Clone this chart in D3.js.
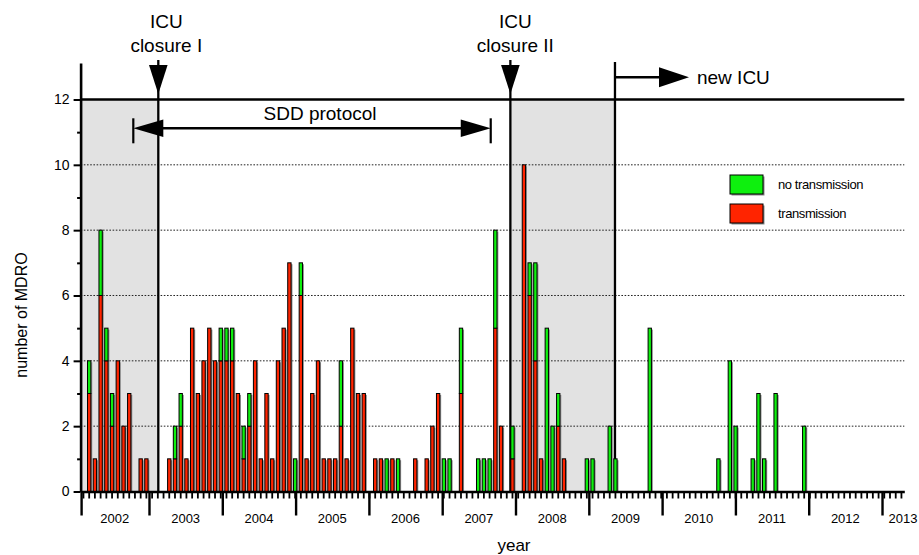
<!DOCTYPE html>
<html>
<head>
<meta charset="utf-8">
<script src="https://cdn.jsdelivr.net/npm/d3@7/dist/d3.min.js"></script>
<style>
  body { margin: 0; background: #fff; }
  text { font-family: "Liberation Sans", Arial, Helvetica, sans-serif; fill: #000; }
</style>
</head>
<body>
<script>

// --------------------------------------------------
// Data: MDRO per 4-week period, period 0 = first period (Mar 2002)
// --------------------------------------------------

const transmission = [
    3, 1, 6, 4, 2, 4, 2, 3, 0, 1, 1, 0, 0, 0,
    1, 1, 2, 1, 5, 3, 4, 5, 4, 4, 4, 4, 3, 1,
    2, 4, 1, 3, 1, 4, 5, 7, 0, 6, 1, 3, 4, 1,
    1, 1, 2, 1, 5, 3, 3, 0, 1, 1, 0, 1, 0, 0,
    0, 1, 0, 1, 2, 3, 0, 0, 0, 3, 0, 0, 0, 0,
    0, 5, 2, 0, 1, 0, 10, 6, 4, 1, 0, 0, 2, 1,
    0, 0, 0, 0, 0, 0, 0, 0, 0, 0, 0, 0, 0, 0,
    0, 0, 0, 0, 0, 0, 0, 0, 0, 0, 0, 0, 0, 0,
    0, 0, 0, 0, 0, 0, 0, 0, 0, 0, 0, 0, 0, 0
];

const noTransmission = [
    1, 0, 2, 1, 1, 0, 0, 0, 0, 0, 0, 0, 0, 0,
    0, 1, 1, 0, 0, 0, 0, 0, 0, 1, 1, 1, 0, 1,
    1, 0, 0, 0, 0, 0, 0, 0, 1, 1, 0, 0, 0, 0,
    0, 0, 2, 0, 0, 0, 0, 0, 0, 0, 1, 0, 1, 0,
    0, 0, 0, 0, 0, 0, 1, 1, 0, 2, 0, 0, 1, 1,
    1, 3, 0, 0, 1, 0, 0, 1, 3, 0, 5, 2, 1, 0,
    0, 0, 0, 1, 1, 0, 0, 2, 1, 0, 0, 0, 0, 0,
    5, 0, 0, 0, 0, 0, 0, 0, 0, 0, 0, 0, 1, 0,
    4, 2, 0, 0, 1, 3, 1, 0, 3, 0, 0, 0, 0, 2
];

const years = [2002, 2003, 2004, 2005, 2006, 2007, 2008, 2009, 2010, 2011, 2012, 2013];
const yTicks = [0, 2, 4, 6, 8, 10, 12];
const yMinorTicks = [1, 3, 5, 7, 9, 11];
const gridValues = [2, 4, 6, 8, 10];

// events as decimal years
const closureI = 2003.127;
const closureII = 2007.930;
const newICU = 2009.357;
const sddStart = 2002.786;
const sddEnd = 2007.662;

const colors = { transmission: '#ff2400', noTransmission: '#0ef00e' };


// --------------------------------------------------
// Init
// --------------------------------------------------

var svg = d3.select('body').append('svg')
    .attr('width', 919)
    .attr('height', 555);

var left = 80.6, right = 904.3, base = 491.5;

var y = d3.scaleLinear()
    .domain([0, 13.12])
    .range([base, 62.9]);

// 144 period slots along the axis, one before the first bar
var x = d3.scaleBand()
    .domain(d3.range(-1, 143))
    .range([left, right])
    .paddingInner(0.42)
    .paddingOuter(0.21);

var xYear = d3.scaleLinear()
    .domain([2002.067, 2013.304])
    .range([left, right]);

var g = svg.append('g');

// shaded periods
g.append('rect')
    .attr('x', left).attr('y', y(12))
    .attr('width', xYear(closureI) - left).attr('height', base - y(12))
    .attr('fill', '#e2e2e2');
g.append('rect')
    .attr('x', xYear(closureII)).attr('y', y(12))
    .attr('width', xYear(newICU) - xYear(closureII)).attr('height', base - y(12))
    .attr('fill', '#e2e2e2');

// dotted grid
g.selectAll('.grid')
    .data(gridValues)
    .enter().append('line')
    .attr('class', 'grid')
    .attr('x1', left).attr('x2', right)
    .attr('y1', d => y(d)).attr('y2', d => y(d))
    .attr('stroke', '#222')
    .attr('stroke-width', 1)
    .attr('stroke-dasharray', '1.6,1.6');

// top line at 12
g.append('line')
    .attr('x1', left).attr('x2', right)
    .attr('y1', y(12)).attr('y2', y(12))
    .attr('stroke', '#000').attr('stroke-width', 2.3);

// event lines
g.append('line')
    .attr('x1', xYear(closureI)).attr('x2', xYear(closureI))
    .attr('y1', 60).attr('y2', base)
    .attr('stroke', '#000').attr('stroke-width', 2.3);
g.append('line')
    .attr('x1', xYear(closureII)).attr('x2', xYear(closureII))
    .attr('y1', 60).attr('y2', base)
    .attr('stroke', '#000').attr('stroke-width', 2.3);
g.append('line')
    .attr('x1', xYear(newICU)).attr('x2', xYear(newICU))
    .attr('y1', 62).attr('y2', base)
    .attr('stroke', '#000').attr('stroke-width', 2.3);


// --------------------------------------------------
// Bars
// --------------------------------------------------

var rows = transmission.map((t, i) => ({
    period: i,
    transmission: t,
    noTransmission: noTransmission[i]
}));

var series = d3.stack()
    .keys(['transmission', 'noTransmission'])(rows);

var bw = x.bandwidth();

// drop shadow
g.selectAll('.shadow')
    .data(rows.filter(d => d.transmission + d.noTransmission > 0))
    .enter().append('rect')
    .attr('class', 'shadow')
    .attr('x', d => x(d.period) + 1.4)
    .attr('y', d => y(d.transmission + d.noTransmission) + 1.4)
    .attr('width', bw)
    .attr('height', d => base - y(d.transmission + d.noTransmission) - 1.4)
    .attr('fill', '#8a8a8a');

g.selectAll('.layer')
    .data(series)
    .enter().append('g')
    .attr('class', 'layer')
    .attr('fill', d => colors[d.key])
    .selectAll('rect')
    .data(d => d.filter(s => s[1] > s[0]))
    .enter().append('rect')
    .attr('x', d => x(d.data.period))
    .attr('y', d => y(d[1]))
    .attr('width', bw)
    .attr('height', d => y(d[0]) - y(d[1]))
    .attr('stroke', '#000')
    .attr('stroke-width', 1);


// --------------------------------------------------
// Axes
// --------------------------------------------------

var yAxis = svg.append('g')
    .attr('transform', 'translate(' + left + ',0)')
    .call(d3.axisLeft(y).tickValues(yTicks).tickSize(7).tickSizeOuter(0).tickPadding(4));
yAxis.select('.domain').attr('stroke-width', 2.6);
yAxis.selectAll('.tick line').attr('stroke-width', 2);
yAxis.selectAll('.tick text').style('font-size', '14px');

var yMinor = svg.append('g')
    .attr('transform', 'translate(' + left + ',0)')
    .call(d3.axisLeft(y).tickValues(yMinorTicks).tickSize(3.5).tickFormat(''));
yMinor.select('.domain').remove();
yMinor.selectAll('.tick line').attr('stroke-width', 2);

var xAxis = svg.append('g')
    .attr('transform', 'translate(0,' + base + ')')
    .call(d3.axisBottom(x).tickSize(7).tickSizeOuter(0).tickFormat(''));
xAxis.select('.domain').attr('stroke-width', 2.6);
xAxis.selectAll('.tick line').attr('stroke-width', 1.8);

var yearAxis = svg.append('g')
    .attr('transform', 'translate(0,' + base + ')')
    .call(d3.axisBottom(xYear).tickValues(years.slice(1)).tickSize(24).tickSizeOuter(0).tickFormat(''));
yearAxis.select('.domain').remove();
yearAxis.selectAll('.tick line').attr('stroke-width', 2.4);

// tick at axis origin
svg.append('line')
    .attr('x1', left + 1).attr('x2', left + 1)
    .attr('y1', base).attr('y2', base + 24)
    .attr('stroke', '#000').attr('stroke-width', 2.4);

// year labels, centred between year ticks
svg.selectAll('.yearLabel')
    .data(years)
    .enter().append('text')
    .attr('class', 'yearLabel')
    .attr('x', d => {
        if (d === 2002) return (left + xYear(2003)) / 2;
        if (d === 2013) return xYear(2013) + 21;
        return xYear(d + 0.5);
    })
    .attr('y', base + 31)
    .attr('text-anchor', 'middle')
    .style('font-size', '13px')
    .text(d => d);

svg.append('text')
    .attr('x', 514).attr('y', 551)
    .attr('text-anchor', 'middle')
    .style('font-size', '17px')
    .text('year');

svg.append('text')
    .attr('transform', 'translate(27,315) rotate(-90)')
    .attr('text-anchor', 'middle')
    .style('font-size', '16px')
    .text('number of MDRO');


// --------------------------------------------------
// Annotations
// --------------------------------------------------

function downArrow(xp) {
    svg.append('path')
        .attr('d', 'M' + (xp - 9.3) + ',65 L' + (xp + 9.3) + ',65 L' + xp + ',94 Z')
        .attr('fill', '#000');
}
downArrow(xYear(closureI));
downArrow(xYear(closureII));

function label(xp, lines) {
    lines.forEach((t, i) => {
        svg.append('text')
            .attr('x', xp).attr('y', 28 + i * 24)
            .attr('text-anchor', 'middle')
            .style('font-size', '19px')
            .text(t);
    });
}
label(xYear(closureI) + 8, ['ICU', 'closure I']);
label(xYear(closureII) + 5, ['ICU', 'closure II']);

// new ICU arrow
var nx = xYear(newICU);
svg.append('line')
    .attr('x1', nx).attr('x2', nx + 46)
    .attr('y1', 77.3).attr('y2', 77.3)
    .attr('stroke', '#000').attr('stroke-width', 2.6);
svg.append('path')
    .attr('d', 'M' + (nx + 44) + ',67.3 L' + (nx + 74) + ',77.3 L' + (nx + 44) + ',87.3 Z')
    .attr('fill', '#000');
svg.append('text')
    .attr('x', nx + 82).attr('y', 84)
    .style('font-size', '19px')
    .text('new ICU');

// SDD protocol
var s0 = xYear(sddStart), s1 = xYear(sddEnd), sy = 128.3;
svg.append('line')
    .attr('x1', s0 + 28).attr('x2', s1 - 28)
    .attr('y1', sy).attr('y2', sy)
    .attr('stroke', '#000').attr('stroke-width', 2.4);
svg.append('path')
    .attr('d', 'M' + s0 + ',' + sy + ' L' + (s0 + 30) + ',' + (sy - 8.8) + ' L' + (s0 + 30) + ',' + (sy + 8.8) + ' Z')
    .attr('fill', '#000');
svg.append('path')
    .attr('d', 'M' + s1 + ',' + sy + ' L' + (s1 - 30) + ',' + (sy - 8.8) + ' L' + (s1 - 30) + ',' + (sy + 8.8) + ' Z')
    .attr('fill', '#000');
[s0, s1].forEach(xp => {
    svg.append('line')
        .attr('x1', xp).attr('x2', xp)
        .attr('y1', sy - 10).attr('y2', sy + 15)
        .attr('stroke', '#000').attr('stroke-width', 2.2);
});
svg.append('text')
    .attr('x', 320).attr('y', 120)
    .attr('text-anchor', 'middle')
    .style('font-size', '19px')
    .text('SDD protocol');


// --------------------------------------------------
// Legend
// --------------------------------------------------

var legend = svg.append('g').attr('transform', 'translate(730,175)');
[['noTransmission', 'no transmission'], ['transmission', 'transmission']].forEach((d, i) => {
    legend.append('rect')
        .attr('x', 1.5).attr('y', i * 29 + 1.5)
        .attr('width', 33).attr('height', 19)
        .attr('fill', '#8a8a8a');
    legend.append('rect')
        .attr('x', 0).attr('y', i * 29)
        .attr('width', 33).attr('height', 19)
        .attr('fill', colors[d[0]])
        .attr('stroke', '#000');
    legend.append('text')
        .attr('x', 48).attr('y', i * 29 + 14)
        .style('font-size', '13px')
        .style('letter-spacing', '-0.4px')
        .text(d[1]);
});

</script>
</body>
</html>
